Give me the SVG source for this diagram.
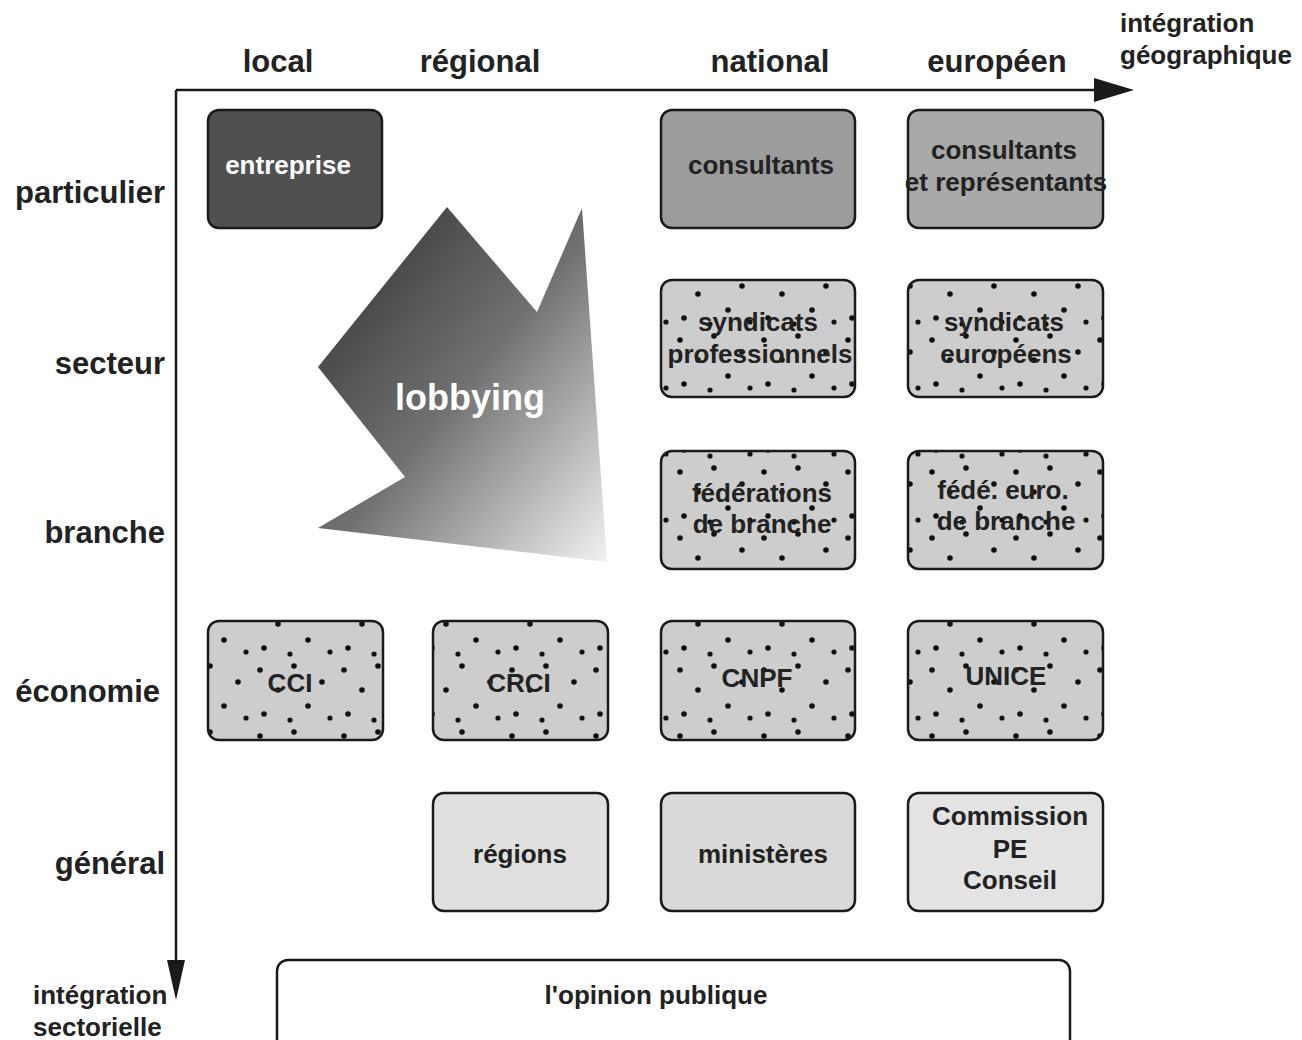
<svg xmlns="http://www.w3.org/2000/svg" width="1302" height="1040" viewBox="0 0 1302 1040">
<defs>
<style>
.ax{font-family:"Liberation Sans",Arial,sans-serif;font-weight:bold;font-size:31px;fill:#222}
.t{font-family:"Liberation Sans",Arial,sans-serif;font-weight:bold;font-size:26px;fill:#222;text-anchor:middle}
.sm{font-family:"Liberation Sans",Arial,sans-serif;font-weight:bold;font-size:26px;fill:#222}
.box{stroke:#1a1a1a;stroke-width:2.5}
.line{stroke:#1a1a1a;stroke-width:2.5;fill:none}
</style>
<pattern id="dots" patternUnits="userSpaceOnUse" width="84" height="66">
<rect width="84" height="66" fill="#cdcdcd"/>
<circle cx="8" cy="10" r="2.8" fill="#111"/>
<circle cx="42" cy="6" r="2.8" fill="#111"/>
<circle cx="70" cy="22" r="2.8" fill="#111"/>
<circle cx="26" cy="30" r="2.8" fill="#111"/>
<circle cx="56" cy="46" r="2.8" fill="#111"/>
<circle cx="12" cy="54" r="2.8" fill="#111"/>
<circle cx="38" cy="60" r="2.6" fill="#111"/>
<circle cx="78" cy="58" r="2.6" fill="#111"/>
</pattern>
<linearGradient id="lob" x1="0" y1="0" x2="1" y2="1">
<stop offset="0" stop-color="#2e2e2e"/>
<stop offset="0.5" stop-color="#707070"/>
<stop offset="1" stop-color="#f2f2f2"/>
</linearGradient>
</defs>

<g id="axes">
<line class="line" x1="176" y1="90" x2="1096" y2="90"/>
<polygon points="1094,78 1134,90 1094,102" fill="#1a1a1a"/>
<line class="line" x1="176" y1="90" x2="176" y2="962"/>
<polygon points="167,960 185,960 176,1000" fill="#1a1a1a"/>
</g>

<g id="labels">
<text class="ax" x="278" y="72" text-anchor="middle">local</text>
<text class="ax" x="480" y="72" text-anchor="middle">régional</text>
<text class="ax" x="770" y="72" text-anchor="middle">national</text>
<text class="ax" x="997" y="72" text-anchor="middle">européen</text>
<text class="ax" x="165" y="203" text-anchor="end">particulier</text>
<text class="ax" x="165" y="374" text-anchor="end">secteur</text>
<text class="ax" x="165" y="543" text-anchor="end">branche</text>
<text class="ax" x="160" y="702" text-anchor="end">économie</text>
<text class="ax" x="165" y="874" text-anchor="end">général</text>
<text class="sm" x="1120" y="32">intégration</text>
<text class="sm" x="1120" y="64">géographique</text>
<text class="sm" x="33" y="1004">intégration</text>
<text class="sm" x="33" y="1036">sectorielle</text>
</g>

<g id="lobbying">
<polygon points="447,207 537,312 582,208 607,562 318,528 405,477 318,367" fill="url(#lob)"/>
<text x="470" y="410" text-anchor="middle" style="font-family:'Liberation Sans',Arial,sans-serif;font-weight:bold;font-size:36px;fill:#fff">lobbying</text>
</g>

<g id="entreprise">
<rect class="box" x="208" y="110" width="174" height="118" rx="11" fill="#505050"/>
<text class="t" x="288" y="174" style="fill:#fff">entreprise</text>
</g>
<g id="consultants">
<rect class="box" x="661" y="110" width="194" height="118" rx="11" fill="#9c9c9c"/>
<text class="t" x="761" y="174">consultants</text>
</g>
<g id="consultants-representants">
<rect class="box" x="908" y="110" width="195" height="118" rx="11" fill="#a9a9a9"/>
<text class="t" x="1004" y="159">consultants</text>
<text class="t" x="1006" y="191">et représentants</text>
</g>

<g id="syndicats-pro">
<rect class="box" x="661" y="280" width="194" height="117" rx="11" fill="url(#dots)"/>
<text class="t" x="758" y="331">syndicats</text>
<text class="t" x="760" y="363">professionnels</text>
</g>
<g id="syndicats-euro">
<rect class="box" x="908" y="280" width="195" height="117" rx="11" fill="url(#dots)"/>
<text class="t" x="1004" y="331">syndicats</text>
<text class="t" x="1006" y="363">européens</text>
</g>

<g id="federations">
<rect class="box" x="661" y="451" width="194" height="118" rx="11" fill="url(#dots)"/>
<text class="t" x="762" y="502">fédérations</text>
<text class="t" x="762" y="533">de branche</text>
</g>
<g id="fede-euro">
<rect class="box" x="908" y="451" width="195" height="118" rx="11" fill="url(#dots)"/>
<text class="t" x="1003" y="499">fédé. euro.</text>
<text class="t" x="1006" y="530">de branche</text>
</g>

<g id="cci">
<rect class="box" x="208" y="621" width="175" height="119" rx="11" fill="url(#dots)"/>
<text class="t" x="290" y="692">CCI</text>
</g>
<g id="crci">
<rect class="box" x="433" y="621" width="175" height="119" rx="11" fill="url(#dots)"/>
<text class="t" x="519" y="692">CRCI</text>
</g>
<g id="cnpf">
<rect class="box" x="661" y="621" width="194" height="119" rx="11" fill="url(#dots)"/>
<text class="t" x="757" y="687">CNPF</text>
</g>
<g id="unice">
<rect class="box" x="908" y="621" width="195" height="119" rx="11" fill="url(#dots)"/>
<text class="t" x="1006" y="685">UNICE</text>
</g>

<g id="regions">
<rect class="box" x="433" y="793" width="175" height="118" rx="11" fill="#e0e0e0"/>
<text class="t" x="520" y="863">régions</text>
</g>
<g id="ministeres">
<rect class="box" x="661" y="793" width="194" height="118" rx="11" fill="#d9d9d9"/>
<text class="t" x="763" y="863">ministères</text>
</g>
<g id="commission">
<rect class="box" x="908" y="793" width="195" height="118" rx="11" fill="#e3e3e3"/>
<text class="t" x="1010" y="825">Commission</text>
<text class="t" x="1010" y="858">PE</text>
<text class="t" x="1010" y="889">Conseil</text>
</g>

<g id="opinion">
<rect class="box" x="277" y="960" width="793" height="100" rx="11" fill="#fff"/>
<text class="t" x="656" y="1004">l'opinion publique</text>
</g>
</svg>
